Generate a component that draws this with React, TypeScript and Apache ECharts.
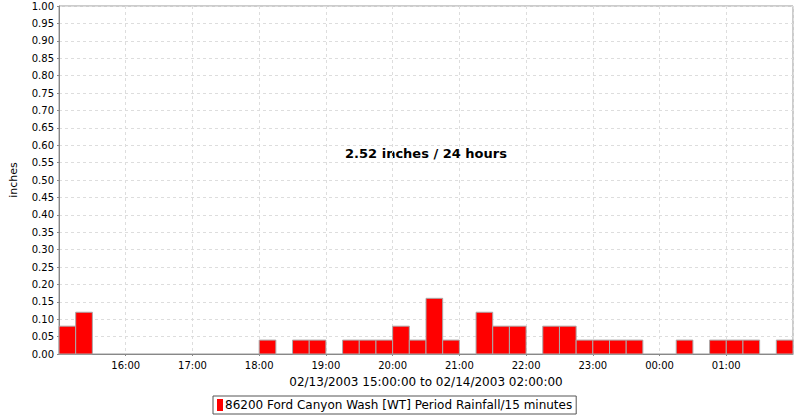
import React, { useEffect, useRef } from "react";
import * as echarts from "echarts";

// Start time of each 15-minute period (hh:mm), and its rainfall in inches
const periodStarts = [
  "15:00", "15:15", "18:00", "18:30", "18:45", "19:15", "19:30", "19:45",
  "20:00", "20:15", "20:30", "20:45", "21:15", "21:30", "21:45", "22:15",
  "22:30", "22:45", "23:00", "23:15", "23:30", "00:15", "00:45", "01:00",
  "01:15", "01:45",
];
const rainfall = [
  0.08, 0.12, 0.04, 0.04, 0.04, 0.04, 0.04, 0.04,
  0.08, 0.04, 0.16, 0.04, 0.12, 0.08, 0.08, 0.08,
  0.08, 0.04, 0.04, 0.04, 0.04, 0.04, 0.04, 0.04,
  0.04, 0.04,
];
const periodMinutes = 15;
const startHour = 15; // axis starts at 15:00
const endHourOffset = 11; // 02:00 next day
const yTicks = [0, 1, 0.05];
const summaryText = "2.52 inches / 24 hours";
const xTitle = "02/13/2003 15:00:00 to 02/14/2003 02:00:00";
const yTitle = "inches";
const seriesName = "86200";
const seriesDesc = " Ford Canyon Wash [WT] Period Rainfall/15 minutes";

function toOffsetHours(t: string): number {
  const [h, m] = t.split(":").map(Number);
  let off = h - startHour;
  if (off < 0) off += 24;
  return off + m / 60;
}

const FONT = "DejaVu Sans";

export default function App() {
  const ref = useRef<HTMLDivElement>(null);
  useEffect(() => {
    if (!ref.current) return;
    const chart = echarts.init(ref.current, null, { renderer: "svg" });
    const data = periodStarts.map((t, i) => {
      const s = toOffsetHours(t);
      return [s, s + periodMinutes / 60, rainfall[i]];
    });
    chart.setOption({
      animation: false,
      backgroundColor: "#fff",
      grid: {
        left: 58,
        right: 7,
        top: 6,
        bottom: 66,
        show: true,
        borderColor: "#999",
        borderWidth: 1,
        backgroundColor: "transparent",
      },
      xAxis: {
        type: "value",
        min: 0,
        max: endHourOffset,
        interval: 1,
        name: xTitle,
        nameLocation: "middle",
        nameGap: 22,
        nameTextStyle: { fontFamily: FONT, fontSize: 12, color: "#000" },
        axisLine: { show: true, lineStyle: { color: "#888" } },
        axisTick: { show: true, length: 2, lineStyle: { color: "#888" } },
        axisLabel: {
          fontFamily: FONT,
          fontSize: 10,
          color: "#000",
          margin: 6,
          showMinLabel: false,
          showMaxLabel: false,
          formatter: (v: number) => {
            const h = (startHour + Math.round(v)) % 24;
            return (h < 10 ? "0" : "") + h + ":00";
          },
        },
        splitLine: {
          show: true,
          lineStyle: { color: "#ddd", type: [3, 3], width: 1 },
        },
      },
      yAxis: {
        type: "value",
        min: yTicks[0],
        max: yTicks[1],
        interval: yTicks[2],
        name: yTitle,
        nameLocation: "middle",
        nameGap: 40,
        nameMoveOverlap: false,
        nameTextStyle: { fontFamily: FONT, fontSize: 11, color: "#000" },
        axisLine: { show: true, lineStyle: { color: "#888" } },
        axisTick: { show: true, length: 2, lineStyle: { color: "#888" } },
        axisLabel: {
          fontFamily: FONT,
          fontSize: 10,
          color: "#000",
          margin: 5,
          formatter: (v: number) => v.toFixed(2),
        },
        splitLine: {
          show: true,
          lineStyle: { color: "#ddd", type: [3, 3], width: 1 },
        },
      },
      legend: {
        show: true,
        left: 213,
        top: 396,
        width: 372,
        padding: [3, 4, 3, 4],
        borderColor: "#555",
        borderWidth: 1,
        itemWidth: 6,
        itemHeight: 12,
        itemGap: 0,
        icon: "rect",
        data: [seriesName],
        formatter: () => seriesName + seriesDesc,
        textStyle: {
          fontFamily: FONT,
          fontSize: 12,
          color: "#000",
          padding: [0, 0, 0, -3],
        },
      },
      graphic: [
        {
          type: "text",
          x: 426,
          y: 153,
          style: {
            text: summaryText,
            textAlign: "center",
            textVerticalAlign: "middle",
            fontFamily: FONT,
            fontSize: 13,
            fontWeight: "bold",
            fill: "#000",
          },
        },
      ],
      series: [
        {
          name: seriesName,
          type: "custom",
          itemStyle: { color: "#ff0000", borderColor: "#aaa" },
          encode: { x: [0, 1], y: 2 },
          data,
          renderItem: (params: any, api: any) => {
            const p0 = api.coord([api.value(0), api.value(2)]);
            const p1 = api.coord([api.value(1), 0]);
            return {
              type: "rect",
              shape: {
                x: p0[0],
                y: p0[1],
                width: p1[0] - p0[0],
                height: p1[1] - p0[1],
              },
              style: { fill: "#ff0000", stroke: "#aaa", lineWidth: 1 },
            };
          },
        },
      ],
    });
    return () => chart.dispose();
  }, []);
  return <div ref={ref} style={{ width: 800, height: 420, position: "absolute", left: 0, top: 0 }} />;
}
